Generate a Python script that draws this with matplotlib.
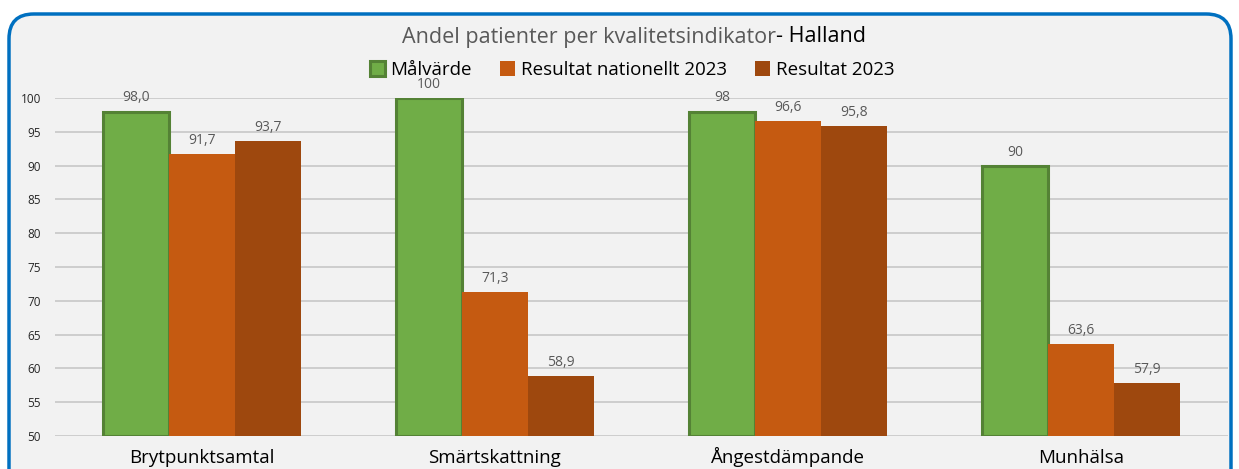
import matplotlib
matplotlib.use("Agg")
import matplotlib.pyplot as plt
from matplotlib.patches import FancyBboxPatch
import numpy as np

plt.rcParams['font.family'] = ['Open Sans', 'DejaVu Sans']

categories = ["Brytpunktsamtal", "Smärtskattning", "Ångestdämpande", "Munhälsa"]
series_names = ["Målvärde", "Resultat nationellt 2023", "Resultat 2023"]
malvarde = [98.0, 100, 98, 90]
nationellt = [91.7, 71.3, 96.6, 63.6]
resultat = [93.7, 58.9, 95.8, 57.9]
malvarde_labels = ["98,0", "100", "98", "90"]
nationellt_labels = ["91,7", "71,3", "96,6", "63,6"]
resultat_labels = ["93,7", "58,9", "95,8", "57,9"]
yticks = [50, 55, 60, 65, 70, 75, 80, 85, 90, 95, 100]

W, H = 1239, 469
fig = plt.figure(figsize=(W/100, H/100), dpi=100)
fig.patch.set_facecolor('white')

# rounded border panel
panel = FancyBboxPatch((9/W, -30/H), (W-17)/W, (H+16)/H,
                       boxstyle="round,pad=0,rounding_size=0.02",
                       transform=fig.transFigure, facecolor='#F2F2F2',
                       edgecolor='#0070C0', linewidth=2.5, zorder=-5,
                       mutation_aspect=W/H)
fig.patches.append(panel)

ax = fig.add_axes([55/W, 1-436/H, (1228-55)/W, (436-98)/H])
ax.set_zorder(2)
ax.set_facecolor('none')
ax.set_xlim(-0.5, 3.5)
ax.set_ylim(50, 100)

x = np.arange(len(categories))
bw = 0.225
colors = ['#70AD47', '#C55A11', '#9E480E']
data = [malvarde, nationellt, resultat]
labels = [malvarde_labels, nationellt_labels, resultat_labels]
for i, (vals, lab, c) in enumerate(zip(data, labels, colors)):
    offs = (i - 1) * bw
    if i == 0:
        ax.bar(x + offs, np.array(vals) - 50, bw, bottom=50, color=c,
               edgecolor='#548235', linewidth=2.2, zorder=3, label=series_names[i])
    else:
        ax.bar(x + offs, np.array(vals) - 50, bw, bottom=50, color=c,
               edgecolor='none', zorder=3, label=series_names[i])
    for xi, v, t in zip(x + offs, vals, lab):
        ax.text(xi, v + 0.9, t, ha='center', va='bottom', fontsize=10,
                color='#595959', zorder=4)

ax.set_yticks(yticks)
ax.set_yticklabels([str(t) for t in yticks], fontsize=8.5, color='#262626')
ax.yaxis.grid(True, color='#C4C4C4', linewidth=1.1, zorder=0)
ax.set_axisbelow(True)
ax.tick_params(axis='y', length=0, pad=10)
ax.set_xticks(x)
ax.set_xticklabels([])
ax.tick_params(axis='x', length=0)
trans = ax.get_xaxis_transform()
for xi, cat in zip(x, categories):
    ax.text(xi, -27/338, cat, transform=trans, ha='center', va='baseline',
            fontsize=13.5, color='#000000', clip_on=False)
for s in ax.spines.values():
    s.set_visible(False)

# title
fig.text(776/W, 1-37/H, "Andel patienter per kvalitetsindikator", ha='right',
         va='center', fontsize=15.5, color='#595959')
fig.text(776/W, 1-37/H, "- Halland", ha='left', va='center',
         fontsize=15.5, color='#000000')

fig.legend(loc='center', bbox_to_anchor=(632/W, 1-70/H), ncol=3,
           frameon=False, fontsize=13.5, handlelength=0.8, handleheight=0.8,
           columnspacing=1.5, handletextpad=0.3)

fig.savefig("out.png", dpi=100, facecolor='white')
